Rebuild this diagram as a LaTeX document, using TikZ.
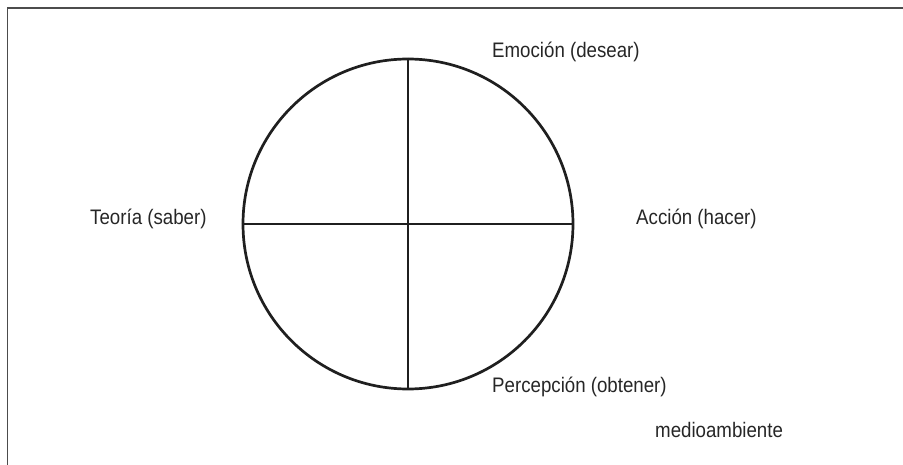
\documentclass[tikz,border=0pt]{standalone}
\usepackage{fontspec}
\setmainfont{Liberation Sans}[FakeStretch=0.89]
\begin{document}
\begin{tikzpicture}[x=1pt,y=-1pt,
  lbl/.style={anchor=base west,inner sep=0pt,font=\fontsize{21}{24}\selectfont,text=black!85},
  ink/.style={draw=black!88,line width=2.7pt}]
\useasboundingbox (0,0) rectangle (903,465);
\coordinate (fl) at (7.5,465);
\coordinate (fc) at (7.5,8);
\coordinate (fr) at (903,8);
\draw[black!70,line width=1.6pt] (fl) -- (fc) -- (fr);
\node[ink,circle,minimum size=330pt,inner sep=0pt] (c) at (408,224) {};
\draw[ink] (c.north) -- (c.south);
\draw[ink] (c.west) -- (c.east);
\node[lbl] (emo) at (492,58) {Emoción (desear)};
\node[lbl] (teo) at (90,225) {Teoría (saber)};
\node[lbl] (acc) at (636,225) {Acción (hacer)};
\node[lbl] (per) at (492,392) {Percepción (obtener)};
\node[lbl] (med) at (655,437) {medioambiente};
\end{tikzpicture}
\end{document}
